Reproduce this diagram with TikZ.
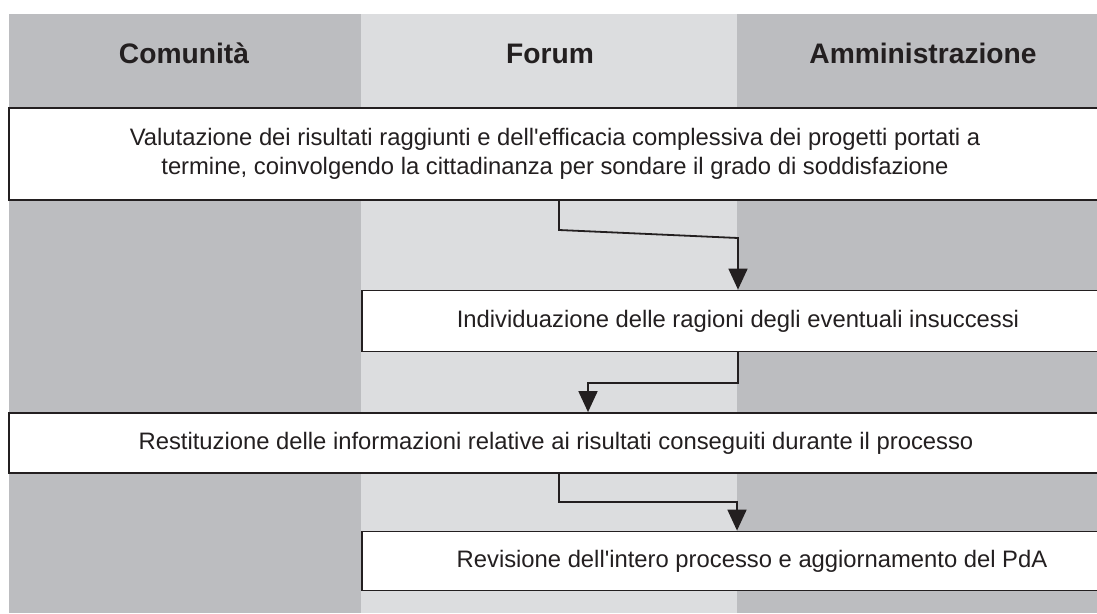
\documentclass[tikz,border=0pt]{standalone}
\usepackage{fontspec}
\setmainfont{Liberation Sans}
\usepackage{xcolor}
\usetikzlibrary{arrows.meta,positioning}

\definecolor{lanedark}{HTML}{BCBDC0}
\definecolor{lanelight}{HTML}{DCDDDF}
\definecolor{ink}{HTML}{231F20}

\begin{document}
\begin{tikzpicture}[
  x=1pt, y=-1pt,
  lane/.style={fill=#1, draw=none},
  head/.style={font=\fontsize{28.2}{33}\selectfont\bfseries, text=ink, anchor=base},
  stepbox/.style={draw=ink, line width=1.8pt, fill=white, align=center,
    font=\fontsize{23.8}{29.5}\selectfont, text=ink, inner sep=0pt},
  flow/.style={draw=ink, line width=1.8pt, -{Triangle[length=21pt, width=19pt]}}
]
  \useasboundingbox (0,0) rectangle (1097,613);
  % corsie
  \fill[lane=lanedark] (9,14) rectangle (361,613);
  \fill[lane=lanelight] (361,14) rectangle (737,613);
  \fill[lane=lanedark] (737,14) rectangle (1097,613);
  \node[head] (com) at (184,63) {Comunità};
  \node[head] (for) at (550,63) {Forum};
  \node[head] (amm) at (923,63) {Amministrazione};

  % fasi
  \node[stepbox, minimum width=1092pt, minimum height=92pt] (val) at (555,154)
    {Valutazione dei risultati raggiunti e dell\textquotesingle efficacia complessiva dei progetti portati a\\termine, coinvolgendo la cittadinanza per sondare il grado di soddisfazione};
  \node[stepbox, minimum width=752pt, minimum height=61pt] (ind) at (738,321)
    {Individuazione delle ragioni degli eventuali insuccessi};
  \node[stepbox, minimum width=1094pt, minimum height=60pt] (res) at (556,443)
    {Restituzione delle informazioni relative ai risultati conseguiti durante il processo};
  \node[stepbox, minimum width=780pt, minimum height=59pt] (rev) at (752,561)
    {Revisione dell\textquotesingle intero processo e aggiornamento del PdA};

  % collegamenti
  \coordinate (k1) at (559,230);
  \coordinate (k2) at (738,238);
  \coordinate (k3) at (738,383);
  \coordinate (k4) at (588,383);
  \coordinate (k5) at (559,502);
  \coordinate (k6) at (737,502);
  \draw[flow] (val.south -| k1) -- (k1) -- (k2) -- (ind.north -| k2);
  \draw[flow] (ind.south -| k3) -- (k3) -- (k4) -- (res.north -| k4);
  \draw[flow] (res.south -| k5) -- (k5) -- (k6) -- (rev.north -| k6);
\end{tikzpicture}
\end{document}
